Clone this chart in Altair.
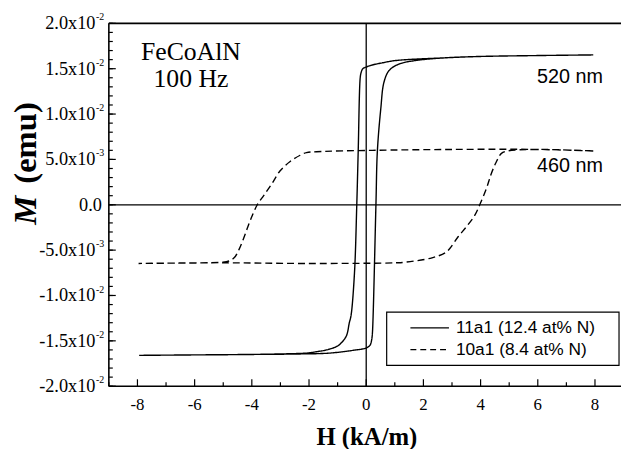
import altair as alt
import pandas as pd

# ---------------- data ----------------
# 11a1 (12.4 at% N), 520 nm  -- solid loop
solid_desc_H = [7.94, 6.0, 4.0, 2.76, 1.03, 0.57, 0.2, -0.01, -0.12, -0.18, -0.21, -0.28, -0.33,
                -0.41, -0.53, -0.59, -0.70, -0.93, -1.05, -1.39, -1.74, -2.09, -2.43, -4.0, -6.0, -7.94]
solid_desc_M = [1.652e-2, 1.645e-2, 1.635e-2, 1.62e-2, 1.59e-2, 1.565e-2, 1.54e-2, 1.518e-2, 1.50e-2,
                1.455e-2, 1.40e-2, 5.9e-3, 0.0, -7.5e-3, -1.22e-2, -1.30e-2, -1.45e-2, -1.54e-2,
                -1.565e-2, -1.60e-2, -1.62e-2, -1.635e-2, -1.64e-2, -1.65e-2, -1.655e-2, -1.66e-2]
solid_asc_H = [-7.94, -6.0, -4.0, -2.43, -1.28, -0.36, -0.01, 0.13, 0.17, 0.20, 0.22, 0.34, 0.39,
               0.51, 0.62, 0.80, 1.14, 1.72, 2.76, 4.0, 6.0, 7.94]
solid_asc_M = [-1.66e-2, -1.655e-2, -1.65e-2, -1.645e-2, -1.635e-2, -1.60e-2, -1.58e-2, -1.55e-2,
               -1.52e-2, -1.47e-2, -1.40e-2, 0.0, 5.9e-3, 1.06e-2, 1.35e-2, 1.48e-2, 1.55e-2,
               1.59e-2, 1.62e-2, 1.635e-2, 1.645e-2, 1.652e-2]

# 10a1 (8.4 at% N), 460 nm  -- dashed loop
dash_desc_H = [7.94, 5.87, 3.10, 0.22, -1.74, -2.09, -2.31, -2.66, -3.01, -3.30, -3.58, -3.81,
               -4.05, -4.22, -4.45, -4.62, -4.80, -5.02, -6.5, -7.96]
dash_desc_M = [5.93e-3, 6.1e-3, 6.1e-3, 6.0e-3, 5.85e-3, 5.75e-3, 5.46e-3, 4.77e-3, 3.75e-3,
               2.31e-3, 1.03e-3, 0.0, -1.69e-3, -3.13e-3, -4.95e-3, -5.85e-3, -6.2e-3, -6.33e-3,
               -6.42e-3, -6.47e-3]
dash_asc_H = [-7.96, -5.02, -2.09, 1.03, 1.37, 2.30, 2.76, 2.93, 3.22, 3.51, 3.80, 3.97, 4.20,
              4.37, 4.54, 4.72, 4.94, 5.87, 7.94]
dash_asc_M = [-6.47e-3, -6.4e-3, -6.47e-3, -6.4e-3, -6.33e-3, -5.85e-3, -5.3e-3, -4.8e-3, -3.5e-3,
              -2.4e-3, -1.14e-3, 0.0, 1.76e-3, 3.4e-3, 4.66e-3, 5.64e-3, 5.93e-3, 6.1e-3, 5.93e-3]

series_names = ["11a1 (12.4 at% N)", "10a1 (8.4 at% N)"]

x_major = [-8, -6, -4, -2, 0, 2, 4, 6, 8]
x_major_labels = ["-8", "-6", "-4", "-2", "0", "2", "4", "6", "8"]
x_minor = [-9, -7, -5, -3, -1, 1, 3, 5, 7]

y_major = [0.02, 0.015, 0.01, 0.005, 0.0, -0.005, -0.01, -0.015, -0.02]
y_base = ["2.0x10", "1.5x10", "1.0x10", "5.0x10", "0.0", "-5.0x10", "-1.0x10", "-1.5x10", "-2.0x10"]
y_sup = ["-2", "-2", "-2", "-3", "", "-3", "-2", "-2", "-2"]
y_minor = [round(-0.02 + 0.001 * k, 4) for k in range(41)]

# ---------------- build tables ----------------
rows = []
for name, hs, ms in [(series_names[0], solid_desc_H + solid_asc_H, solid_desc_M + solid_asc_M),
                     (series_names[1], dash_desc_H + dash_asc_H, dash_desc_M + dash_asc_M)]:
    for i, (h, m) in enumerate(zip(hs, ms)):
        rows.append({"H": h, "M": m, "series": name, "i": i})
loops = pd.DataFrame(rows)

W, HT = 518, 367
xs = alt.Scale(domain=[-9, 8.91], nice=False, zero=False)
ys = alt.Scale(domain=[-0.02, 0.02], nice=False, zero=False)
SERIF = "Liberation Serif"
SANS = "Liberation Sans"

lines = alt.Chart(loops).mark_line(color="black", strokeWidth=1.4, clip=True,
                                   interpolate="catmull-rom").encode(
    x=alt.X("H:Q", scale=xs, axis=None),
    y=alt.Y("M:Q", scale=ys, axis=None),
    detail="series:N",
    order="i:Q",
    strokeDash=alt.StrokeDash("series:N", scale=alt.Scale(domain=series_names, range=[[1, 0], [7, 4]]),
                              legend=None),
)

zero_df = pd.DataFrame({"v": [0.0]})
hzero = alt.Chart(zero_df).mark_rule(color="black", strokeWidth=1.3).encode(
    y=alt.Y("v:Q", scale=ys, axis=None))
vzero = alt.Chart(zero_df).mark_rule(color="black", strokeWidth=1.3).encode(
    x=alt.X("v:Q", scale=xs, axis=None))

one = pd.DataFrame({"a": [0]})
frame_left = alt.Chart(one).mark_rule(color="black", strokeWidth=1.6).encode(
    x=alt.value(0), y=alt.value(0), y2=alt.value(HT))
frame_top = alt.Chart(one).mark_rule(color="black", strokeWidth=1.6).encode(
    x=alt.value(0), x2=alt.value(W + 2), y=alt.value(0))
frame_bot = alt.Chart(one).mark_rule(color="black", strokeWidth=1.6).encode(
    x=alt.value(0), x2=alt.value(W + 2), y=alt.value(HT))

ymaj_df = pd.DataFrame({"v": y_major, "base": y_base, "sup": y_sup})
ymin_df = pd.DataFrame({"v": y_minor})
xmaj_df = pd.DataFrame({"v": x_major, "lab": x_major_labels})
xmin_df = pd.DataFrame({"v": x_minor})

ytick_major = alt.Chart(ymaj_df).mark_rule(color="black", strokeWidth=1.2).encode(
    y=alt.Y("v:Q", scale=ys, axis=None), x=alt.value(0), x2=alt.value(7))
ytick_minor = alt.Chart(ymin_df).mark_rule(color="black", strokeWidth=1.2).encode(
    y=alt.Y("v:Q", scale=ys, axis=None), x=alt.value(0), x2=alt.value(4))
xtick_major = alt.Chart(xmaj_df).mark_rule(color="black", strokeWidth=1.2).encode(
    x=alt.X("v:Q", scale=xs, axis=None), y=alt.value(HT), y2=alt.value(HT - 7))
xtick_minor = alt.Chart(xmin_df).mark_rule(color="black", strokeWidth=1.2).encode(
    x=alt.X("v:Q", scale=xs, axis=None), y=alt.value(HT), y2=alt.value(HT - 4))

ylab_base = alt.Chart(ymaj_df).transform_filter("datum.sup != ''").mark_text(
    font=SERIF, fontSize=18.5, align="right", baseline="middle", color="black").encode(
    y=alt.Y("v:Q", scale=ys, axis=None), x=alt.value(-13.5), text="base:N")
ylab_zero = alt.Chart(ymaj_df).transform_filter("datum.sup == ''").mark_text(
    font=SERIF, fontSize=18.5, align="right", baseline="middle", color="black").encode(
    y=alt.Y("v:Q", scale=ys, axis=None), x=alt.value(-7), text="base:N")
ylab_sup = alt.Chart(ymaj_df).transform_filter("datum.sup != ''").mark_text(
    font=SERIF, fontSize=10, align="left", baseline="middle", dy=-6, color="black").encode(
    y=alt.Y("v:Q", scale=ys, axis=None), x=alt.value(-13), text="sup:N")

xlab = alt.Chart(xmaj_df).mark_text(
    font=SERIF, fontSize=17, align="center", baseline="alphabetic", color="black").encode(
    x=alt.X("v:Q", scale=xs, axis=None), y=alt.value(391.5), text="lab:N")

def label(txt, x, y, **kw):
    return alt.Chart(pd.DataFrame({"t": [txt]})).mark_text(color="black", **kw).encode(
        x=alt.value(x), y=alt.value(y), text="t:N")

xtitle = label("H (kA/m)", 261, 426, font=SERIF, fontSize=25, fontWeight="bold",
               align="center", baseline="alphabetic")
ytitle_m = label("M", -84, 189, font=SERIF, fontSize=33, fontWeight="bold", fontStyle="italic",
                 align="center", baseline="middle", angle=270)
ytitle_u = label("(emu)", -84, 121, font=SERIF, fontSize=33, fontWeight="bold",
                 align="center", baseline="middle", angle=270)

ann1 = label("FeCoAlN", 83, 37, font=SERIF, fontSize=26, align="center", baseline="alphabetic")
ann2 = label("100 Hz", 83, 64, font=SERIF, fontSize=26, align="center", baseline="alphabetic")
ann3 = label("520 nm", 433, 60, font=SANS, fontSize=20, align="left", baseline="alphabetic")
ann4 = label("460 nm", 433, 150, font=SANS, fontSize=20, align="left", baseline="alphabetic")

leg_box = alt.Chart(one).mark_rect(fill="white", stroke="black", strokeWidth=1.2).encode(
    x=alt.value(281), x2=alt.value(516), y=alt.value(292), y2=alt.value(346))
leg_line1 = alt.Chart(one).mark_rule(color="black", strokeWidth=1.4).encode(
    x=alt.value(305), x2=alt.value(344), y=alt.value(308))
leg_line2 = alt.Chart(one).mark_rule(color="black", strokeWidth=1.4, strokeDash=[6, 4]).encode(
    x=alt.value(305), x2=alt.value(344), y=alt.value(330))
leg_t1 = label(series_names[0], 351, 308, font=SANS, fontSize=17.5, align="left", baseline="middle")
leg_t2 = label(series_names[1], 351, 330, font=SANS, fontSize=17.5, align="left", baseline="middle")

chart = alt.layer(
    hzero, vzero, lines,
    leg_box, leg_line1, leg_line2, leg_t1, leg_t2,
    frame_left, frame_top, frame_bot,
    ytick_major, ytick_minor, xtick_major, xtick_minor,
    ylab_base, ylab_zero, ylab_sup, xlab,
    xtitle, ytitle_m, ytitle_u,
    ann1, ann2, ann3, ann4,
).properties(
    width=W, height=HT,
    autosize="none",
    padding={"left": 102, "top": 13, "right": 0, "bottom": 61},
    background="white",
).configure_view(stroke=None)

chart.save("out.html", embed_options={"renderer": "svg", "actions": False})
